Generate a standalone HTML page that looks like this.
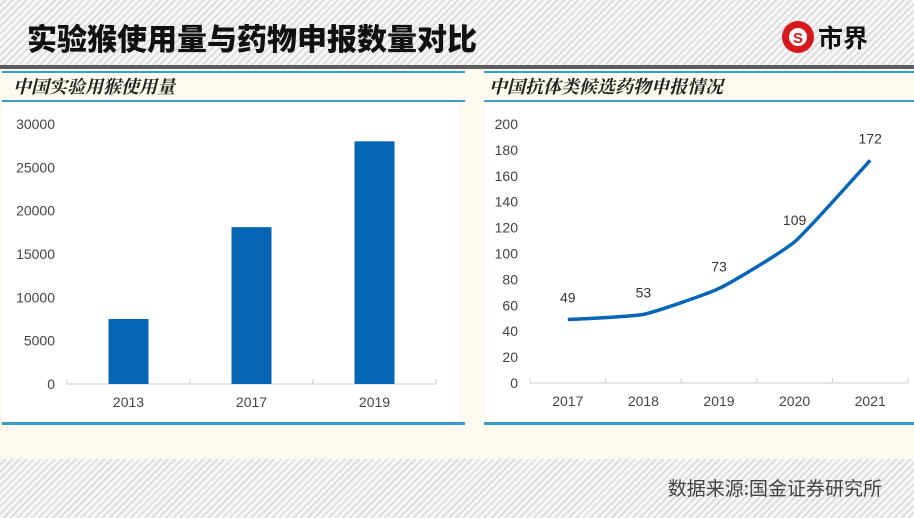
<!DOCTYPE html>
<html><head><meta charset="utf-8"><style>
body{margin:0;width:914px;height:518px;overflow:hidden;font-family:"Liberation Sans","Noto Sans CJK SC",sans-serif;}
#root{position:relative;width:914px;height:518px;background:#fcfaef;}
.hatch{position:absolute;left:0;width:914px;background-color:#ececec;background-image:repeating-linear-gradient(135deg,#f7f7f7 0 3px,#dedede 3px 5px);}
</style></head><body><div id="root">
<div class="hatch" style="top:0;height:65px"></div>
<div style="position:absolute;top:65px;left:0;width:914px;height:4px;background:#5e5e5e"></div>
<div style="position:absolute;left:27px;top:17px;font-size:30px;font-weight:900;color:#111;font-family:'Noto Sans CJK SC',sans-serif;line-height:40px">实验猴使用量与药物申报数量对比</div>
<svg style="position:absolute;left:780px;top:19px" width="110" height="36">
<circle cx="18" cy="18" r="16" fill="#d7191f"/><circle cx="18" cy="18" r="9" fill="#fff"/><text x="18" y="24" font-size="15" font-weight="bold" text-anchor="middle" fill="#d7191f" font-family="Liberation Sans">S</text>
<text x="38" y="28" font-size="25" font-weight="bold" fill="#111" font-family="Noto Sans CJK SC,sans-serif">市界</text></svg>
<div class="hatch" style="top:459px;height:59px"></div>
<div style="position:absolute;right:32px;top:474px;font-size:19px;color:#444;font-family:'Noto Sans CJK SC',sans-serif">数据来源:国金证券研究所</div>

<div style="position:absolute;left:2px;top:71px;width:463px;height:2px;background:#3a9bcc"></div>
<div style="position:absolute;left:2px;top:100px;width:463px;height:2px;background:#3a9bcc"></div>
<div style="position:absolute;left:2px;top:422px;width:463px;height:3px;background:#3a9bcc"></div>
<div style="position:absolute;left:484px;top:71px;width:430px;height:2px;background:#3a9bcc"></div>
<div style="position:absolute;left:484px;top:100px;width:430px;height:2px;background:#3a9bcc"></div>
<div style="position:absolute;left:484px;top:422px;width:430px;height:3px;background:#3a9bcc"></div>
<div style="position:absolute;left:13px;top:73px;font-size:18px;font-style:italic;font-weight:bold;color:#222;font-family:'Noto Serif CJK SC',serif">中国实验用猴使用量</div>
<div style="position:absolute;left:489px;top:73px;font-size:18px;font-style:italic;font-weight:bold;color:#222;font-family:'Noto Serif CJK SC',serif">中国抗体类候选药物申报情况</div>

<svg id="chart" style="position:absolute;left:0;top:0" width="914" height="518"></svg>
</div>
<script>
const barCats=["2013","2017","2019"];
const barVals=[7500,18100,28000];
const barTicks=[0,5000,10000,15000,20000,25000,30000];
const lineCats=["2017","2018","2019","2020","2021"];
const lineVals=[49,53,73,109,172];
const lineTicks=[0,20,40,60,80,100,120,140,160,180,200];
const NS="http://www.w3.org/2000/svg",svg=document.getElementById('chart');
function mk(t,a,p){const e=document.createElementNS(NS,t);for(const k in a)e.setAttribute(k,a[k]);(p||svg).appendChild(e);return e;}
mk('rect',{x:2,y:104,width:456,height:317,fill:'#fff'});
mk('rect',{x:485,y:104,width:429,height:317,fill:'#fff'});
// bar chart
const bx0=67,bx1=436,by0=384,by1=124;
const bY=v=>by0-(v/30000)*(by0-by1);const bw=(bx1-bx0)/barCats.length;
barTicks.forEach(t=>{const e=mk('text',{x:55,y:bY(t)+5,'text-anchor':'end','font-size':14,fill:'#444'});e.textContent=t;

});
mk('line',{x1:bx0,y1:by0,x2:bx1,y2:by0,stroke:'#ccc'});
for(let i=0;i<=barCats.length;i++)mk('line',{x1:bx0+i*bw,y1:by0,x2:bx0+i*bw,y2:by0-5,stroke:'#ccc'});
barCats.forEach((c,i)=>{const cx=bx0+bw*(i+0.5);
const r=mk('rect',{x:cx-20,y:bY(barVals[i]),width:40,height:by0-bY(barVals[i]),fill:'#0765b5'});


const t=mk('text',{x:cx,y:407,'text-anchor':'middle','font-size':14,fill:'#444'});t.textContent=c;

});
// line chart
const lx0=530,lx1=908,ly0=383,ly1=124;
const lY=v=>ly0-(v/200)*(ly0-ly1);const lw=(lx1-lx0)/lineCats.length;
lineTicks.forEach(t=>{const e=mk('text',{x:518,y:lY(t)+5,'text-anchor':'end','font-size':14,fill:'#444'});e.textContent=t;

});
mk('line',{x1:lx0,y1:ly0,x2:lx1,y2:ly0,stroke:'#ccc'});
for(let i=0;i<=lineCats.length;i++)mk('line',{x1:lx0+i*lw,y1:ly0,x2:lx0+i*lw,y2:ly0-5,stroke:'#ccc'});
const pts=lineCats.map((c,i)=>[lx0+lw*(i+0.5),lY(lineVals[i])]);
let d='M'+pts[0][0]+','+pts[0][1];
for(let i=0;i<pts.length-1;i++){const p0=pts[Math.max(0,i-1)],p1=pts[i],p2=pts[i+1],p3=pts[Math.min(pts.length-1,i+2)];const k=0.08;
d+=` C${p1[0]+(p2[0]-p0[0])*k},${p1[1]+(p2[1]-p0[1])*k} ${p2[0]-(p3[0]-p1[0])*k},${p2[1]-(p3[1]-p1[1])*k} ${p2[0]},${p2[1]}`;}
const pl=mk('path',{d:d,fill:'none',stroke:'#0765b5','stroke-width':3.5});


lineCats.forEach((c,i)=>{const t=mk('text',{x:pts[i][0],y:406,'text-anchor':'middle','font-size':14,fill:'#444'});t.textContent=c;


const v=mk('text',{x:pts[i][0],y:pts[i][1]-17,'text-anchor':'middle','font-size':14,fill:'#333'});v.textContent=lineVals[i];

});
</script></body></html>
